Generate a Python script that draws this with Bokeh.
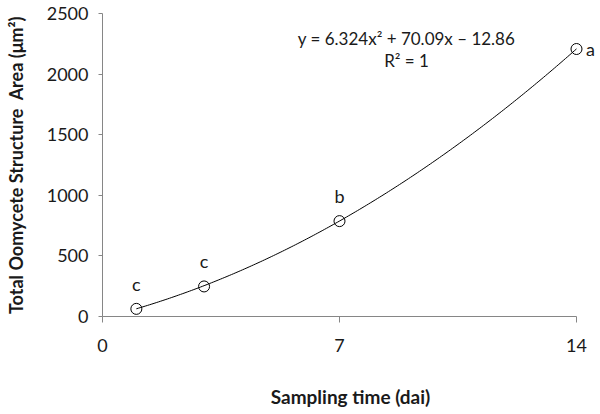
import numpy as np
from bokeh.plotting import figure
from bokeh.models import ColumnDataSource, LabelSet, Label, FixedTicker, Range1d
from bokeh.core.properties import value
from bokeh.embed import file_html
from bokeh.resources import INLINE

# data
days = [1, 3, 7, 14]
area = [63, 248, 787, 2207]
letters = ["c", "c", "b", "a"]
coef = [6.324, 70.09, -12.86]  # quadratic trendline coefficients
x_ticks = [0, 7, 14]
y_ticks = [0, 500, 1000, 1500, 2000, 2500]
eq_text = "y = 6.324x\u00b2 + 70.09x \u2013 12.86"
r2_text = "R\u00b2 = 1"

FONT = "Lato"
AX = "#868686"
TXT = "#1a1a1a"

p = figure(width=600, height=414, output_backend="svg", toolbar_location=None,
           x_range=Range1d(0, 14.65), y_range=Range1d(0, 2500),
           min_border_left=102, min_border_right=2, min_border_top=13, min_border_bottom=98)
p.outline_line_color = None
p.xgrid.visible = False
p.ygrid.visible = False

# trendline
xs = np.linspace(min(days), max(days), 200)
ys = np.polyval(coef, xs)
p.line(xs, ys, line_color="black", line_width=1)

src = ColumnDataSource(dict(x=days, y=area, t=letters,
                            dx=[14 if t == "a" else 0 for t in letters],
                            dy=[0 if t == "a" else 25 for t in letters]))
p.scatter("x", "y", source=src, size=11, marker="circle", fill_color=None,
          line_color="black", line_width=1)

lbl = LabelSet(x="x", y="y", text="t", source=src, x_offset="dx", y_offset="dy",
               text_align="center", text_baseline="middle",
               text_font=value(FONT), text_font_size="18px", text_color=TXT)
p.add_layout(lbl)

p.add_layout(Label(x=8.98, y=2294, text=eq_text, text_align="center", text_baseline="middle",
                   text_font=FONT, text_font_size="17px", text_color=TXT))
p.add_layout(Label(x=8.98, y=2112, text=r2_text, text_align="center", text_baseline="middle",
                   text_font=FONT, text_font_size="17px", text_color=TXT))

for ax in (p.xaxis[0], p.yaxis[0]):
    ax.axis_line_color = AX
    ax.major_tick_line_color = AX
    ax.minor_tick_line_color = None
    ax.major_tick_in = 0
    ax.major_label_text_font = FONT
    ax.major_label_text_font_size = "18px"
    ax.major_label_text_color = TXT
    ax.axis_label_text_font = FONT
    ax.axis_label_text_font_size = "19px"
    ax.axis_label_text_font_style = "bold"
    ax.axis_label_text_color = TXT

p.yaxis.axis_label_text_font_size = "18px"
p.xaxis.bounds = (0, 14)
p.xaxis.ticker = FixedTicker(ticks=x_ticks)
p.yaxis.ticker = FixedTicker(ticks=y_ticks)
p.xaxis.major_tick_out = 6
p.yaxis.major_tick_out = 4
p.xaxis.major_label_standoff = 16
p.yaxis.major_label_standoff = 10
p.xaxis.axis_label = "Sampling time (dai)"
p.yaxis.axis_label = "Total Oomycete Structure\u00a0 Area (\u03bcm\u00b2)"
p.xaxis.axis_label_standoff = 30
p.yaxis.axis_label_standoff = 17

open("out.html", "w").write(file_html(p, INLINE))
